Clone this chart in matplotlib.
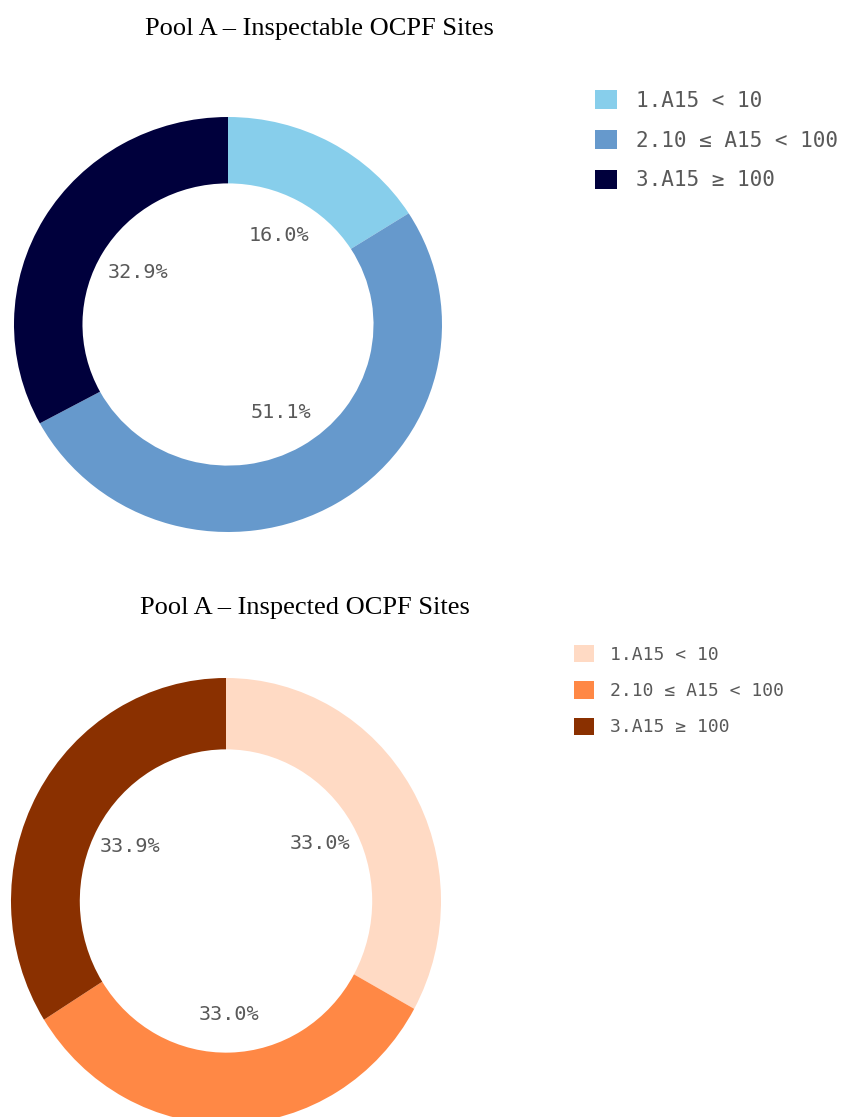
import matplotlib
matplotlib.use("Agg")
from matplotlib import pyplot as plt

# data
categories = ["1.A15 < 10", "2.10 \u2264 A15 < 100", "3.A15 \u2265 100"]
inspectable = [16.0, 51.1, 32.9]
inspected = [33.0, 33.0, 33.9]
blue_colors = ["#87ceeb", "#6699cc", "#00003c"]
orange_colors = ["#ffdac4", "#ff8845", "#8a3000"]

W, H = 842, 1117
fig = plt.figure(figsize=(W / 100, H / 100), dpi=100)
mono = "DejaVu Sans Mono"
grey = "#595959"


def px_axes(cx, cy, rx, ry):
    return fig.add_axes([(cx - rx) / W, (H - cy - ry) / H, 2 * rx / W, 2 * ry / H])


def donut(ax, values, colors, pctd):
    wedges, _, autotexts = ax.pie(values, colors=colors, startangle=90, counterclock=False,
                                  wedgeprops=dict(width=0.32, linewidth=0),
                                  autopct="%.1f%%", pctdistance=pctd,
                                  textprops=dict(fontfamily=mono, color=grey, fontsize=14.5))
    ax.set_xlim(-1, 1)
    ax.set_ylim(-1, 1)
    ax.set_aspect("auto")
    ax.axis("off")
    return wedges


ax1 = px_axes(228, 324.5, 214, 207.5)
w1 = donut(ax1, inspectable, blue_colors, 0.49)
ax2 = px_axes(226, 901, 215, 223)
w2 = donut(ax2, inspected, orange_colors, 0.51)

fig.text(319 / W, 1 - 29 / H, "Pool A \u2013 Inspectable OCPF Sites", ha="center", va="center",
         fontfamily="Liberation Serif", fontsize=19)
fig.text(305 / W, 1 - 608 / H, "Pool A \u2013 Inspected OCPF Sites", ha="center", va="center",
         fontfamily="Liberation Serif", fontsize=19)

leg1 = fig.legend(w1, categories, loc="upper left",
                  bbox_to_anchor=(595 / W, 1 - 90 / H), frameon=False, borderpad=0, borderaxespad=0,
                  handlelength=1.05, handleheight=1.05, handletextpad=0.9, labelspacing=0.9,
                  prop=dict(family=mono, size=15.1))
for t in leg1.get_texts():
    t.set_color(grey)

leg2 = fig.legend(w2, categories, loc="upper left",
                  bbox_to_anchor=(574 / W, 1 - 645 / H), frameon=False, borderpad=0, borderaxespad=0,
                  handlelength=1.1, handleheight=1.1, handletextpad=0.9, labelspacing=0.97,
                  prop=dict(family=mono, size=13))
for t in leg2.get_texts():
    t.set_color(grey)

fig.savefig("out.png", dpi=100)
